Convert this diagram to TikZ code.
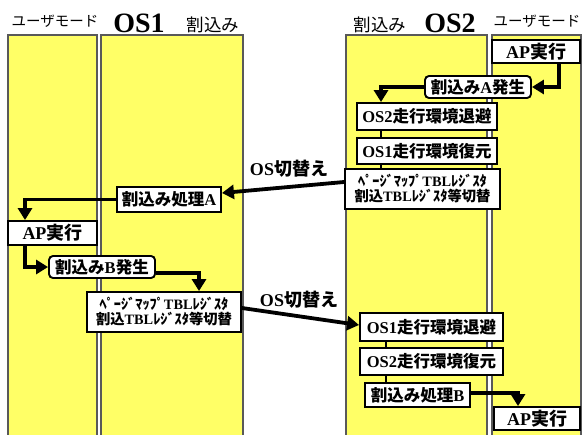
\documentclass[tikz,border=0pt]{standalone}
\usepackage{fontspec}
\setmainfont{Liberation Serif}
\newfontfamily\jp{Noto Sans CJK JP}
\usetikzlibrary{arrows.meta}
\definecolor{colyel}{HTML}{FFFF66}
\newcommand\jb[1]{{\jp\bfseries #1}}
\begin{document}
\begin{tikzpicture}[x=1pt,y=-1pt,
  col/.style={fill=colyel, draw=black!65, line width=1.2pt},
  box/.style={draw, fill=white, line width=1.9pt, inner sep=0pt, align=center,
    font=\bfseries\fontsize{16.5}{18}\selectfont},
  rbox/.style={box, rounded corners=4pt},
  apbox/.style={box, font=\bfseries\fontsize{18}{19}\selectfont},
  tblbox/.style={box, font=\bfseries\fontsize{14.3}{15}\selectfont},
  arr/.style={line width=3.8pt, -{Triangle[length=12pt,width=14pt]}},
  link/.style={line width=2.6pt},
  sw/.style={font=\bfseries\fontsize{18}{20}\selectfont, inner sep=0pt},
  ttl/.style={font=\jp\fontsize{14.5}{16}\selectfont, inner sep=0pt},
  ttk/.style={font=\jp\fontsize{17.5}{19}\selectfont, inner sep=0pt},
  ttos/.style={font=\bfseries\fontsize{28}{30}\selectfont, inner sep=0pt}]
\useasboundingbox (0,0) rectangle (583,434);
\clip (0,0) rectangle (583,434);
% columns
\draw[col] (8,35) rectangle (97,440);
\draw[col] (101,35) rectangle (243,440);
\draw[col] (346,35) rectangle (487,440);
\draw[col] (492,35) rectangle (581,440);
% titles
\node[ttl] (tu1) at (55,21.5) {ユーザモード};
\node[ttos] (tos1) at (139,23) {OS1};
\node[ttk] (tk1) at (213,24.5) {割込み};
\node[ttk] (tk2) at (380,24.5) {割込み};
\node[ttos] (tos2) at (450,23) {OS2};
\node[ttl] (tu2) at (537,21.5) {ユーザモード};
% boxes right column (top)
\node[apbox, minimum width=88pt, minimum height=23pt] (apA) at (536,51.5) {AP\jb{実行}};
\node[rbox, minimum width=106pt, minimum height=22pt] (intA) at (478,87) {\jb{割込み}A\jb{発生}};
\node[box, minimum width=140pt, minimum height=27pt] (sv2) at (427,116.5) {OS2\jb{走行環境退避}};
\node[box, minimum width=140pt, minimum height=26pt] (rs1) at (427,151) {OS1\jb{走行環境復元}};
\node[tblbox, minimum width=155pt, minimum height=40pt] (tbl1) at (422.5,189) {\jb{ﾍﾟｰｼﾞﾏｯﾌﾟ}TBL\jb{ﾚｼﾞｽﾀ}\\\jb{割込}TBL\jb{ﾚｼﾞｽﾀ等切替}};
% left side
\node[box, minimum width=104pt, minimum height=25pt] (hA) at (169,199.5) {\jb{割込み処理}A};
\node[apbox, minimum width=89pt, minimum height=24pt] (apL) at (52.5,233) {AP\jb{実行}};
\node[rbox, minimum width=106pt, minimum height=22pt] (intB) at (102,267) {\jb{割込み}B\jb{発生}};
\node[tblbox, minimum width=154pt, minimum height=40pt] (tbl2) at (164,312) {\jb{ﾍﾟｰｼﾞﾏｯﾌﾟ}TBL\jb{ﾚｼﾞｽﾀ}\\\jb{割込}TBL\jb{ﾚｼﾞｽﾀ等切替}};
% right column (bottom)
\node[box, minimum width=143pt, minimum height=28pt] (sv1) at (431.5,327) {OS1\jb{走行環境退避}};
\node[box, minimum width=143pt, minimum height=27pt] (rs2) at (431.5,361.5) {OS2\jb{走行環境復元}};
\node[box, minimum width=105pt, minimum height=24pt] (hB) at (417.5,395) {\jb{割込み処理}B};
\node[apbox, minimum width=86pt, minimum height=23pt] (apB) at (537,418.5) {AP\jb{実行}};
% labels
\node[sw] (os1lab) at (289,169) {OS\jb{切替え}};
\node[sw] (os2lab) at (299,300) {OS\jb{切替え}};
% link lines
\draw[link] ([xshift=-46pt]sv2.south) -- ([xshift=-46pt]rs1.north);
\draw[link] ([xshift=-46pt]rs1.south) -- ([xshift=-46pt]rs1.south |- tbl1.north);
\draw[link] ([xshift=-45.5pt]sv1.south) -- ([xshift=-45.5pt]rs2.north);
\draw[link] ([xshift=-45.5pt]rs2.south) -- ([xshift=-45.5pt]rs2.south |- hB.north);
% arrows
\draw[arr] ([xshift=23pt]apA.south) |- (intA.east);
\draw[arr] (intA.west) -| ([xshift=-46pt]sv2.north);
\draw[arr] ([yshift=7pt]tbl1.west) -- ([yshift=6.5pt]hA.east);
\draw[arr] (hA.west) -| ([xshift=-27.5pt]apL.north);
\draw[arr] ([xshift=-27.5pt]apL.south) |- (intB.west);
\draw[arr] ([yshift=-6pt]intB.east) -| ([xshift=35pt]tbl2.north);
\draw[arr] ([yshift=4pt]tbl2.east) -- ([yshift=2pt]sv1.west);
\draw[arr] ([yshift=2pt]hB.east) -| ([xshift=-19pt]apB.north);
\end{tikzpicture}
\end{document}
